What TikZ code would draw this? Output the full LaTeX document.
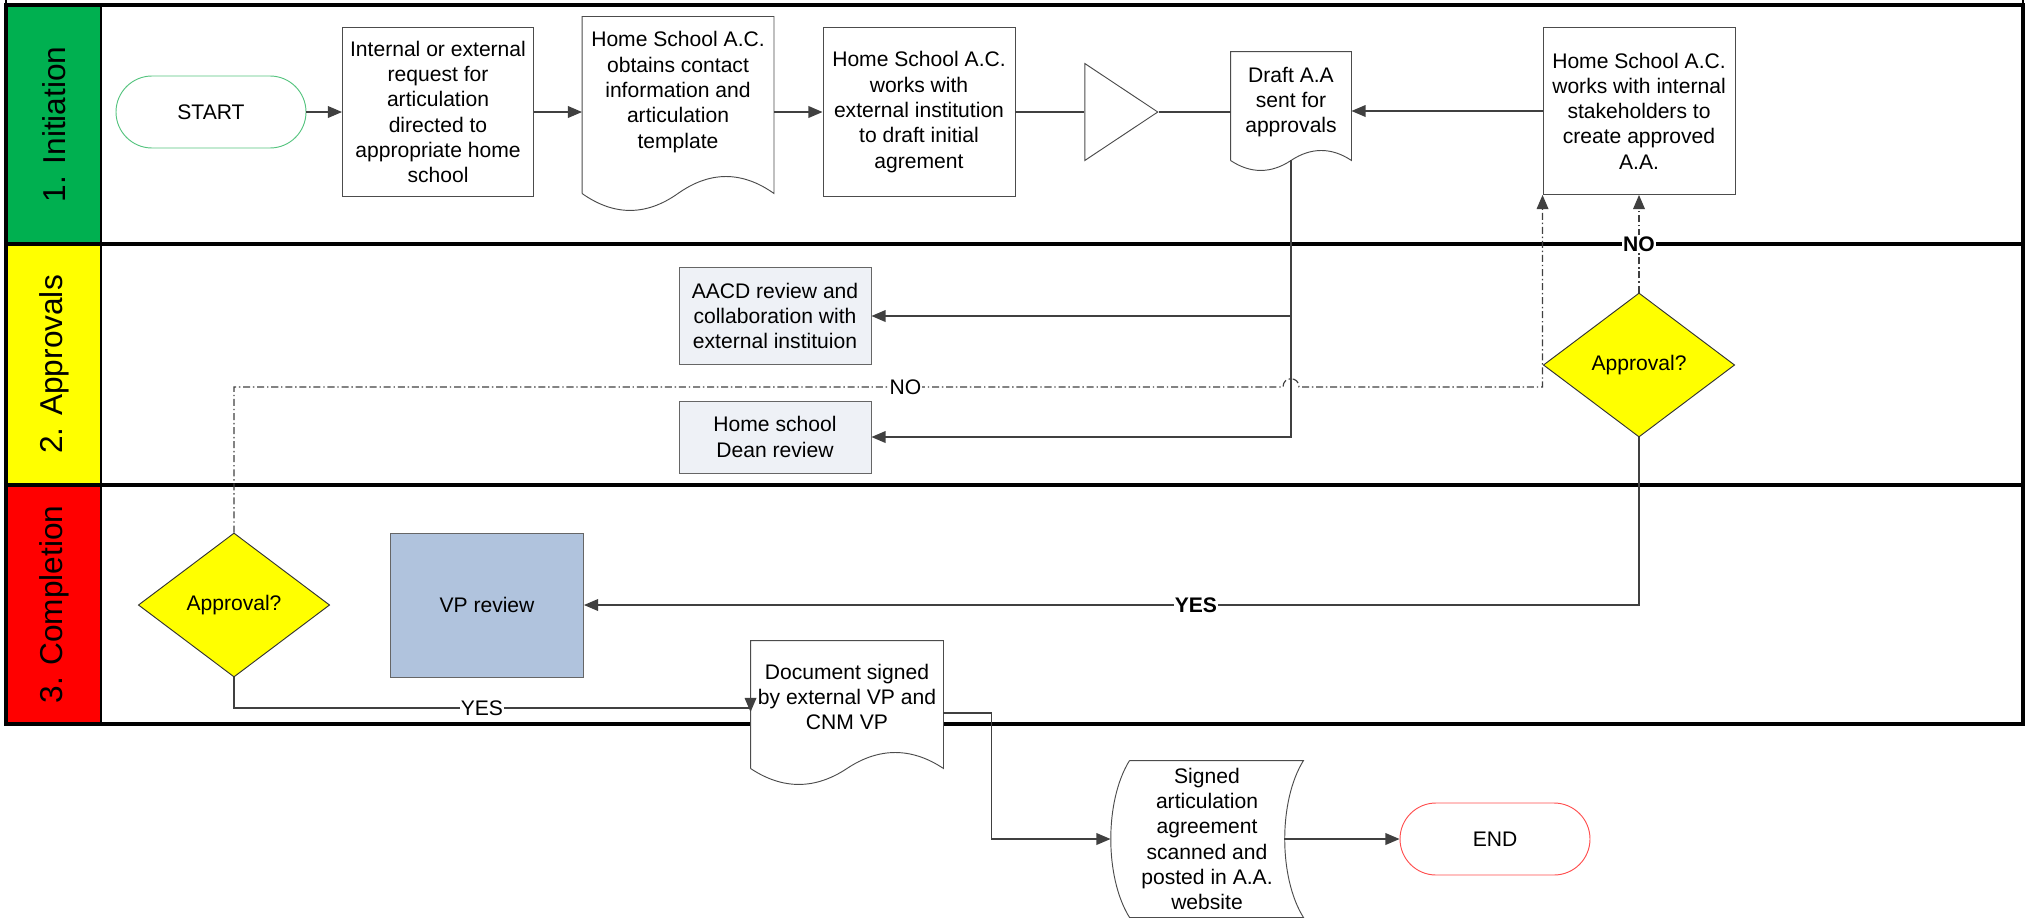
\documentclass[tikz,border=0pt]{standalone}
\usepackage{fontspec}
\setmainfont{Liberation Sans}
\usetikzlibrary{positioning,shapes.geometric,arrows.meta,calc}

\definecolor{laneA}{HTML}{00B050}
\definecolor{laneB}{HTML}{FFFF00}
\definecolor{laneC}{HTML}{FF0000}
\definecolor{startline}{HTML}{55C47F}
\definecolor{endline}{HTML}{FF4F4F}
\definecolor{boxfill}{HTML}{EEF1F6}
\definecolor{vpfill}{HTML}{B0C3DD}

\begin{document}
\begin{tikzpicture}[x=0.015cm,y=-0.015cm,
  every node/.style={font=\fontsize{9}{10.8}\selectfont,align=center,inner sep=1pt},
  proc/.style={draw=black!70,fill=white,rectangle},
  gbox/.style={draw=black!60,fill=boxfill,rectangle},
  term/.style={draw,fill=white,rounded corners=0.54cm,minimum width=2.85cm,minimum height=1.08cm},
  decis/.style={draw=black!80,fill=laneB,diamond,aspect=1.33,inner sep=0pt,minimum width=2.87cm,minimum height=2.16cm},
  docu/.style={fill=white,rectangle,inner sep=0pt},
  conn/.style={draw=black!75,line width=0.5pt},
  arr/.style={conn,-{Triangle[length=6pt,width=5pt]}},
  dashdot/.style={dash pattern=on 3pt off 1.2pt on 0.6pt off 1.2pt},
  tag/.style={fill=white,inner sep=0.5pt}]
\useasboundingbox (0,0) rectangle (2027,919);

% swim lanes
\draw[line width=0.8pt] (6,0) -- (6,5) (2023,0) -- (2023,5);
\foreach \n/\ya/\yb/\c/\t in {1/5/244/laneA/1. Initiation,2/244/485/laneB/2. Approvals,3/485/724/laneC/3. Completion}{
  \draw[line width=0.8pt,fill=\c] (6,\ya) rectangle (101,\yb);
  \draw[line width=1.3pt] (6,\ya) rectangle (2023,\yb);
  \node[rotate=90,font=\fontsize{13.5}{16}\selectfont] (lane\n) at (54,{(\ya+\yb)/2}) {\t};
}

% lane 1
\node[term,draw=startline] (start) at (211,112) {START};
\node[proc,minimum width=2.865cm,minimum height=2.535cm] (req) at (438,112) {Internal or external\\request for\\articulation\\directed to\\appropriate home\\school};
\node[docu,minimum width=2.865cm,minimum height=2.25cm] (doc1) at (678,92) {Home School A.C.\\obtains contact\\information and\\articulation\\template};
\node[proc,minimum width=2.88cm,minimum height=2.535cm] (ext) at (919,112) {Home School A.C.\\works with\\external institution\\to draft initial\\agrement};
\node[draw=black!70,isosceles triangle,isosceles triangle stretches,minimum width=1.455cm,minimum height=1.095cm,inner sep=0pt,anchor=apex] (merge) at (1159,112) {};
\node[docu,minimum width=1.8cm,minimum height=1.5cm] (draft) at (1291,102) {Draft A.A\\sent for\\approvals};
\node[proc,minimum width=2.88cm,minimum height=2.505cm] (intern) at (1639,111) {Home School A.C.\\works with internal\\stakeholders to\\create approved\\A.A.};

% lane 2
\node[gbox,minimum width=2.88cm,minimum height=1.455cm] (aacd) at (775,316) {AACD review and\\collaboration with\\external instituion};
\node[gbox,minimum width=2.88cm,minimum height=1.08cm] (dean) at (775,437) {Home school\\Dean review};
\node[decis] (appr2) at (1639,365) {Approval?};

% lane 3
\node[decis] (appr3) at (234,605) {Approval?};
\node[proc,fill=vpfill,draw=black!60,minimum width=2.895cm,minimum height=2.16cm] (vp) at (487,605) {VP review};
\node[docu,minimum width=2.88cm,minimum height=1.68cm] (doc2) at (847,697) {Document signed\\by external VP and\\CNM VP};

% below the lanes
\node[docu,minimum width=2.88cm,minimum height=2.34cm] (scan) at (1207,839) {Signed\\articulation\\agreement\\scanned and\\posted in A.A.\\website};
\node[term,draw=endline] (finish) at (1495,839) {END};

% document outlines
\foreach \d/\e/\a/\c in {doc1/26/17/32,draft/8/10/20,doc2/15/16/32}
  \draw[draw=black!70] ($(\d.south west)+(0,\e)$) -- (\d.north west) -- (\d.north east) -- ($(\d.south east)+(0,\e)$)
    .. controls +({-\c},{-1.33*\a}) and +({\c},{-1.33*\a}) .. ($(\d.south)+(0,\e)$)
    .. controls +({-\c},{1.33*\a}) and +({\c},{1.33*\a}) .. ($(\d.south west)+(0,\e)$);
\draw[draw=black!70] ($(scan.north west)+(19,0)$) -- (scan.north east)
  .. controls +(-25,40) and +(-25,-40) .. (scan.south east) -- ($(scan.south west)+(19,0)$)
  .. controls +(-25,-40) and +(-25,40) .. ($(scan.north west)+(19,0)$);

% connectors
\draw[arr] (start) -- (req);
\draw[arr] (req) -- (req -| doc1.west);
\draw[arr] (doc1.east |- ext) -- (ext);
\draw[conn] (ext) -- (merge.lower side);
\draw[conn] (merge.apex) -- (merge.apex -| draft.west);
\draw[arr] (intern) -- (intern -| draft.east);
\draw[arr] ($(draft.south)+(0,8)$) |- (aacd);
\draw[arr] ($(draft.south)+(0,8)$) |- (dean);
\draw[arr,dashdot] (appr2) -- (intern) node[tag,pos=0.5,font=\fontsize{9}{10.8}\selectfont\bfseries] {NO};
\draw[arr] (appr2) |- (vp) node[tag,pos=0.71,font=\fontsize{9}{10.8}\selectfont\bfseries] {YES};
\draw[arr] (appr3) |- ($(doc2.west)+(0,11)$) node[tag,pos=0.74] {YES} -- ++(0,4);
\coordinate (hopa) at (1283,387);
\coordinate (hopb) at (1299,387);
\draw[arr,dashdot] (appr3) |- (hopa) node[tag,pos=0.82] {NO}
  .. controls +(0,-11) and +(0,-11) .. (hopb) -| (intern.south west);
\draw[arr] ($(doc2.east)+(0,16)$) -- ++(48,0) |- (scan.west);
\draw[arr] ($(scan.east)+(-19,0)$) -- (finish);
\end{tikzpicture}
\end{document}
